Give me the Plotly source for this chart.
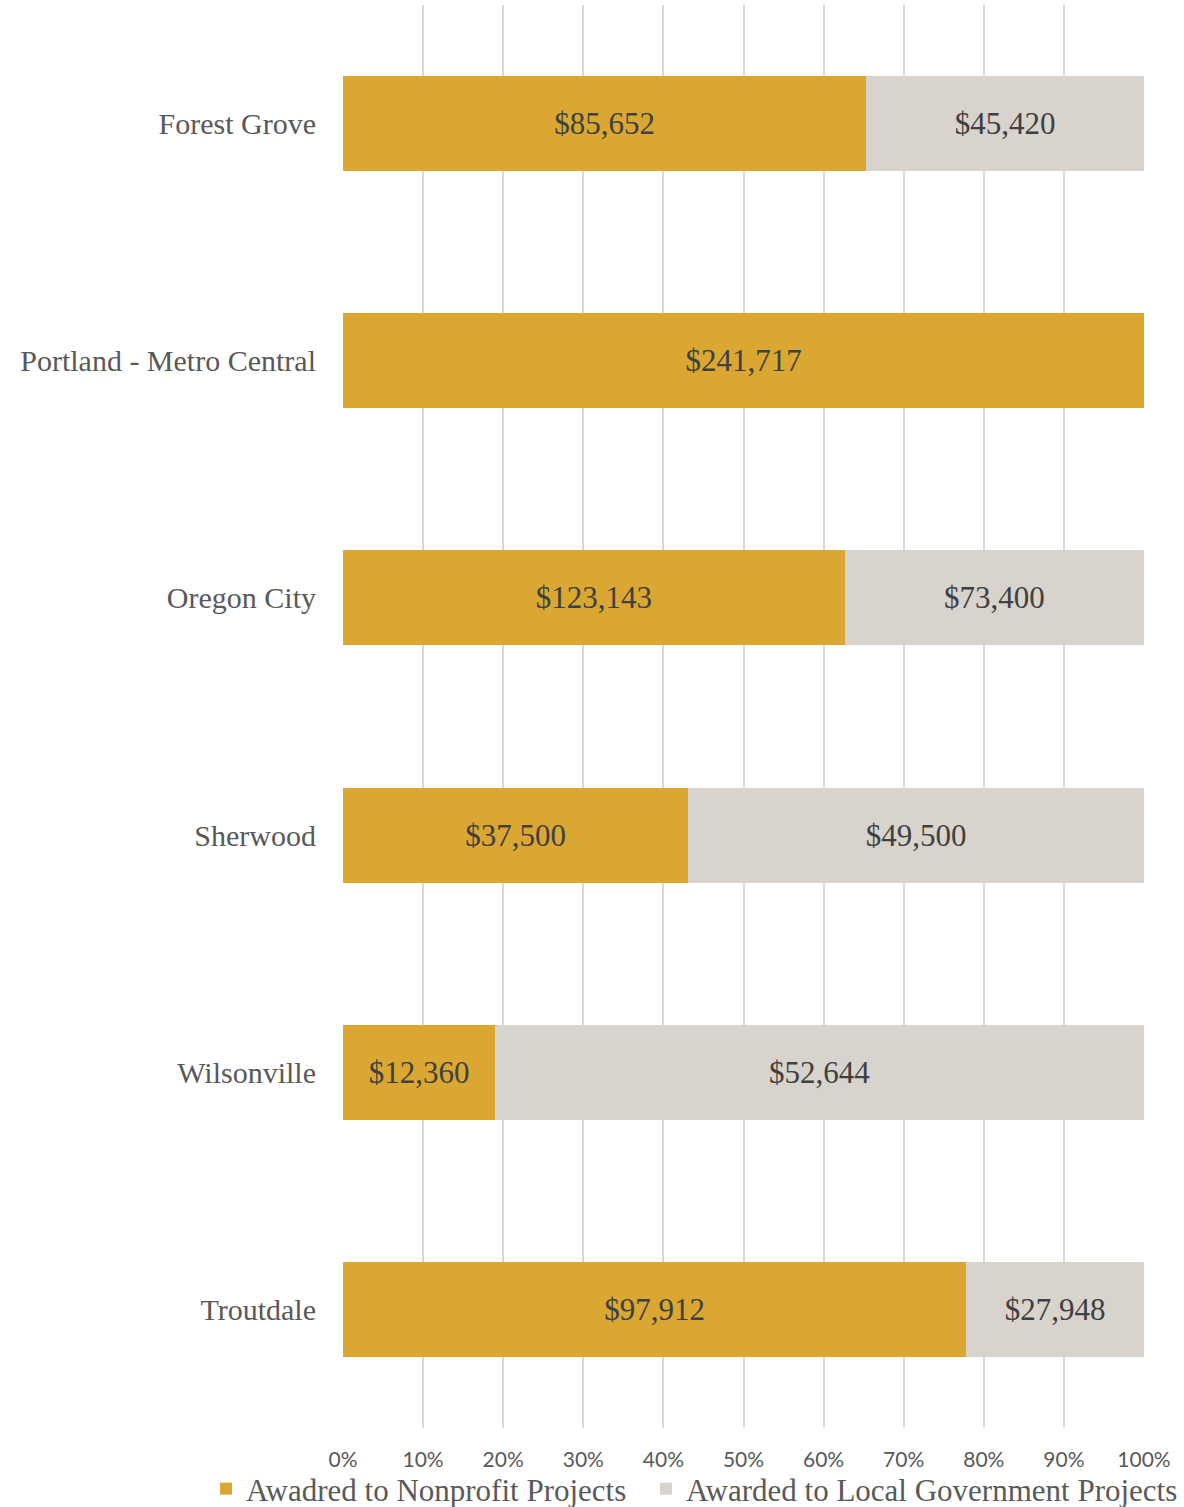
import plotly.graph_objects as go

categories = ["Forest Grove", "Portland - Metro Central", "Oregon City", "Sherwood", "Wilsonville", "Troutdale"]
nonprofit = [85652, 241717, 123143, 37500, 12360, 97912]
local_gov = [45420, 0, 73400, 49500, 52644, 27948]
tick_vals = [0, 10, 20, 30, 40, 50, 60, 70, 80, 90, 100]
tick_text = ["0%", "10%", "20%", "30%", "40%", "50%", "60%", "70%", "80%", "90%", "100%"]

def labels(vals):
    return [f"${v:,}" if v > 0 else "" for v in vals]

serif = "Liberation Serif"
fig = go.Figure()
fig.add_trace(go.Bar(
    y=categories, x=nonprofit, orientation="h", name="Awadred to Nonprofit Projects",
    marker=dict(color="#D9A732", line=dict(width=0)),
    text=labels(nonprofit), textposition="inside", insidetextanchor="middle",
    textfont=dict(family=serif, size=31, color="#404040"), hoverinfo="x+y",
    legend="legend",
))
fig.add_trace(go.Bar(
    y=categories, x=local_gov, orientation="h", name="Awarded to Local Government Projects",
    marker=dict(color="#D8D3CD", line=dict(width=0)),
    text=labels(local_gov), textposition="inside", insidetextanchor="middle",
    textfont=dict(family=serif, size=31, color="#404040"), hoverinfo="x+y",
    legend="legend2",
))
leg_common = dict(orientation="h", xref="container", yref="container", xanchor="left",
                  y=1 - 1489 / 1507, yanchor="middle",
                  font=dict(family=serif, size=31, color="#595959"),
                  bgcolor="rgba(0,0,0,0)", borderwidth=0)
fig.update_layout(
    barmode="stack", barnorm="percent", bargap=0.6,
    width=1184, height=1507,
    margin=dict(l=343, r=40, t=5, b=79, autoexpand=False),
    paper_bgcolor="white", plot_bgcolor="white",
    showlegend=True,
    legend=dict(x=(224 - 18) / 1184, **leg_common),
    legend2=dict(x=(664 - 18) / 1184, **leg_common),
    xaxis=dict(range=[0, 100], tickvals=tick_vals, ticktext=tick_text, showgrid=True,
               gridcolor="#D9D9D9", gridwidth=2, zeroline=False, showline=False, automargin=False,
               tickfont=dict(family="Lato", size=21, color="#595959"), ticks="", ticklabelstandoff=17),
    yaxis=dict(autorange="reversed", showgrid=False, showline=False, ticks="", automargin=False,
               tickfont=dict(family=serif, size=30, color="#595959"), ticklabelstandoff=26),
)
fig.write_html("out.html")
